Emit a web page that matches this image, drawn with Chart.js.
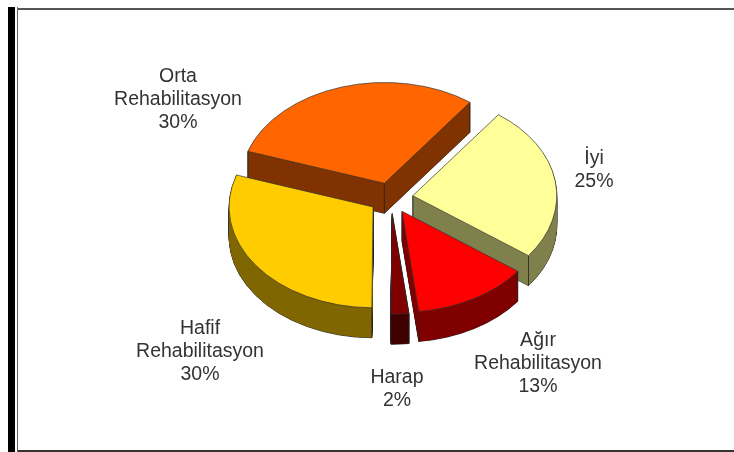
<!DOCTYPE html>
<html>
<head>
<meta charset="utf-8">
<style>
  html, body { margin: 0; background: #fff; }
  canvas { display: block; }
</style>
</head>
<body>
<canvas id="chartCanvas" width="734" height="452"></canvas>
<script src="https://cdn.jsdelivr.net/npm/chart.js@4/dist/chart.umd.js"></script>
<script>
const categories = ["İyi", "Ağır Rehabilitasyon", "Harap", "Hafif Rehabilitasyon", "Orta Rehabilitasyon"];
const values = [25, 13, 2, 30, 30];
const topColors = ["#FFFF99", "#FF0000", "#800000", "#FFCC00", "#FF6600"];
const wallColors = ["#80804D", "#800000", "#400000", "#806600", "#803300"];

// pie look, not data
const squash = 0.7;
const depth = 30;
const explode = 22;
const drawOrder = [4, 0, 3, 2, 1]; // back to front
const labelAnchors = [[594, 159], [538, 341], [397, 378], [200, 329], [178, 77]];
const labelLineHeight = 23;

// draw one arc with other colours, the resolved options are shared so swap the object
const drawArcWith = (ctx, arc, overrides) => {
    const saved = arc.options;
    arc.options = { ...saved, ...overrides };
    arc.draw(ctx);
    arc.options = saved;
};

const pie3d = {
    id: "pie3d",
    beforeDatasetsDraw(chart) {
        const ctx = chart.ctx;
        const arcs = chart.getDatasetMeta(0).data;

        // flatten the pie and pull the slice out along its middle angle
        // (not using the offset option, it also makes thin slices longer)
        const flattened = (arc, shift, fn) => {
            const mid = (arc.startAngle + arc.endAngle) / 2;
            ctx.save();
            ctx.translate(arc.x, arc.y + shift);
            ctx.scale(1, squash);
            ctx.translate(Math.cos(mid) * explode - arc.x, Math.sin(mid) * explode - arc.y);
            fn();
            ctx.restore();
        };

        drawOrder.forEach((i) => {
            const arc = arcs[i];

            // outline of the swept wall first, then the fill on top of it
            for (let d = depth; d > 0; d--) {
                flattened(arc, d, () => drawArcWith(ctx, arc, { backgroundColor: "#222", borderColor: "#222", borderWidth: 1 }));
            }
            for (let d = depth; d > 0; d--) {
                flattened(arc, d, () => drawArcWith(ctx, arc, { backgroundColor: wallColors[i], borderWidth: 0 }));
            }

            // vertical edges at the corners of the slice
            const mid = (arc.startAngle + arc.endAngle) / 2;
            const cx = arc.x + Math.cos(mid) * explode;
            const cy = arc.y + Math.sin(mid) * explode * squash;
            const corners = [
                [cx, cy],
                [cx + Math.cos(arc.startAngle) * arc.outerRadius, cy + Math.sin(arc.startAngle) * arc.outerRadius * squash],
                [cx + Math.cos(arc.endAngle) * arc.outerRadius, cy + Math.sin(arc.endAngle) * arc.outerRadius * squash],
            ];
            ctx.save();
            ctx.strokeStyle = "#222";
            ctx.lineWidth = 0.8;
            corners.forEach(([x, y]) => {
                ctx.beginPath();
                ctx.moveTo(x, y);
                ctx.lineTo(x, y + depth);
                ctx.stroke();
            });
            ctx.restore();

            flattened(arc, 0, () => arc.draw(ctx));
        });
        return false;
    },
    afterDraw(chart) {
        const ctx = chart.ctx;
        ctx.save();

        // frame
        ctx.fillStyle = "#000";
        ctx.fillRect(8, 7, 7, 445);
        ctx.fillStyle = "#666";
        ctx.fillRect(17, 7, 1, 445);
        ctx.fillStyle = "#555";
        ctx.fillRect(18, 8, 716, 2);
        ctx.fillStyle = "#333";
        ctx.fillRect(18, 450, 716, 2);

        // labels
        ctx.fillStyle = "#333";
        ctx.font = '19.5px "Liberation Sans", Arial, sans-serif';
        ctx.textAlign = "center";
        ctx.textBaseline = "middle";
        categories.forEach((name, i) => {
            const lines = [...name.split(" "), values[i] + "%"];
            lines.forEach((line, n) => {
                ctx.fillText(line, labelAnchors[i][0], labelAnchors[i][1] + n * labelLineHeight);
            });
        });
        ctx.restore();
    },
};

const ctx = document.getElementById("chartCanvas").getContext("2d");

new Chart(ctx, {
    type: "pie",
    data: {
        labels: categories,
        datasets: [
            {
                data: values,
                backgroundColor: topColors,
                borderColor: "#333",
                borderWidth: 0.8,
            },
        ],
    },
    options: {
        responsive: false,
        animation: false,
        rotation: 36.5,
        radius: 144,
        layout: { padding: { left: 48, bottom: 56 } },
        plugins: {
            legend: { display: false },
            tooltip: { enabled: false },
        },
    },
    plugins: [pie3d],
});
</script>
</body>
</html>
